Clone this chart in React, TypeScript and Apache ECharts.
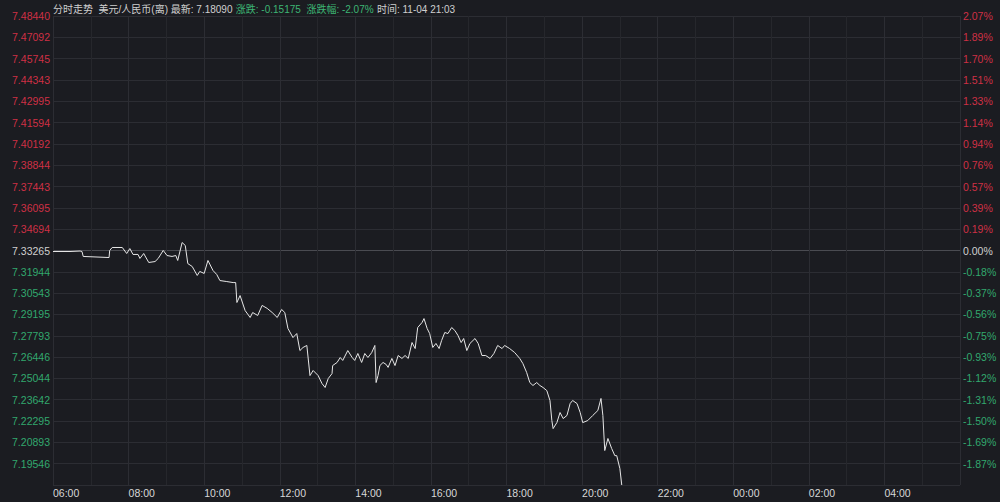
import React, { useEffect, useRef } from "react";
import * as echarts from "echarts";

// ---- data ----
const times = [
  "06:00","06:27","06:43","06:46","06:48","07:29","07:30","07:34","07:50","07:57",
  "08:02","08:07","08:15","08:18","08:24","08:32","08:42","08:47","08:55","09:01",
  "09:09","09:15","09:18","09:25","09:30","09:34","09:41","09:49","09:53","10:00",
  "10:06","10:14","10:20","10:25","10:35","10:46","10:50","10:52","10:57","11:05",
  "11:13","11:17","11:25","11:32","11:40","11:48","11:56","12:03","12:08","12:13",
  "12:21","12:27","12:32","12:37","12:43","12:48","12:53","13:01","13:07","13:12",
  "13:17","13:23","13:24","13:31","13:36","13:40","13:48","13:55","13:59","14:04",
  "14:10","14:15","14:20","14:26","14:31","14:33","14:36","14:39","14:44","14:49",
  "14:52","14:58","15:03","15:08","15:14","15:19","15:24","15:30","15:35","15:39",
  "15:46","15:49","15:54","15:58","16:03","16:08","16:13","16:17","16:22","16:27",
  "16:33","16:38","16:43","16:48","16:52","16:57","17:02","17:10","17:15","17:21",
  "17:27","17:34","17:40","17:46","17:53","17:57","18:05","18:13","18:21","18:26",
  "18:32","18:37","18:42","18:48","18:53","18:58","19:04","19:09","19:12","19:14",
  "19:20","19:25","19:30","19:36","19:41","19:45","19:52","19:57","20:01","20:09",
  "20:17","20:25","20:30","20:33","20:36","20:41","20:47","20:52","20:55","21:00",
  "21:03"
];
const prices = [
  7.3320,7.3320,7.3323,7.3320,7.3288,7.3281,7.3327,7.3346,7.3346,7.3307,
  7.3339,7.3301,7.3301,7.3275,7.3307,7.3249,7.3255,7.3275,7.3327,7.3294,
  7.3288,7.3294,7.3262,7.3378,7.3359,7.3242,7.3223,7.3165,7.3191,7.3178,
  7.3262,7.3197,7.3171,7.3132,7.3126,7.3119,7.3119,7.2990,7.3035,7.2938,
  7.2893,7.2925,7.2906,7.2971,7.2952,7.2925,7.2893,7.2945,7.2925,7.2822,
  7.2763,7.2789,7.2679,7.2699,7.2712,7.2517,7.2550,7.2517,7.2466,7.2440,
  7.2498,7.2530,7.2582,7.2602,7.2634,7.2615,7.2679,7.2634,7.2615,7.2660,
  7.2602,7.2660,7.2634,7.2666,7.2712,7.2472,7.2517,7.2582,7.2602,7.2589,
  7.2570,7.2628,7.2582,7.2647,7.2628,7.2647,7.2628,7.2731,7.2692,7.2828,
  7.2861,7.2886,7.2822,7.2789,7.2699,7.2725,7.2692,7.2744,7.2796,7.2789,
  7.2828,7.2809,7.2776,7.2731,7.2757,7.2679,7.2725,7.2757,7.2725,7.2647,
  7.2647,7.2628,7.2660,7.2712,7.2692,7.2712,7.2692,7.2666,7.2628,7.2595,
  7.2537,7.2472,7.2453,7.2472,7.2453,7.2440,7.2420,7.2356,7.2226,7.2174,
  7.2213,7.2278,7.2239,7.2259,7.2336,7.2356,7.2336,7.2278,7.2213,7.2226,
  7.2259,7.2291,7.2369,7.2259,7.2032,7.2110,7.2045,7.1999,7.1999,7.1915,
  7.1809
];

const priceLabels = [
  "7.48440","7.47092","7.45745","7.44343","7.42995","7.41594","7.40192","7.38844",
  "7.37443","7.36095","7.34694","7.33265","7.31944","7.30543","7.29195","7.27793",
  "7.26446","7.25044","7.23642","7.22295","7.20893","7.19546",""
];
const pctLabels = [
  "2.07%","1.89%","1.70%","1.51%","1.33%","1.14%","0.94%","0.76%","0.57%","0.39%",
  "0.19%","0.00%","-0.18%","-0.37%","-0.56%","-0.75%","-0.93%","-1.12%","-1.31%",
  "-1.50%","-1.69%","-1.87%",""
];
const timeLabels = ["06:00","08:00","10:00","12:00","14:00","16:00","18:00","20:00","22:00","00:00","02:00","04:00"];

const Y_MIN = 7.1809;
const Y_MAX = 7.4844;
const STEPS = 22;
const START_HOUR = 6;

const headerName = "分时走势  美元/人民币(离) 最新: 7.18090";
const headerChange = "涨跌: -0.15175  涨跌幅: -2.07%";
const headerTime = "时间: 11-04 21:03";

const RED = "#cf3045";
const GREEN = "#32a86e";
const NEUTRAL = "#d0d0d0";
const FONT = "'Liberation Sans', 'Noto Sans CJK SC', sans-serif";

function toMinutes(t: string) {
  const [h, m] = t.split(":").map(Number);
  let hh = h - START_HOUR;
  if (hh < 0) hh += 24;
  return hh * 60 + m;
}

export default function App() {
  const ref = useRef<HTMLDivElement>(null);
  useEffect(() => {
    if (!ref.current) return;
    const chart = echarts.init(ref.current, null, { renderer: "svg" });
    const step = (Y_MAX - Y_MIN) / STEPS;
    const tickVals: number[] = [];
    for (let i = 0; i <= STEPS; i++) {
      tickVals.push(i === 0 ? Y_MIN : i === STEPS ? Y_MAX : Y_MIN + i * step);
    }
    const idxOf = (v: number) => STEPS - Math.round((v - Y_MIN) / step);
    const colorOf = (v: number) => {
      const i = idxOf(v);
      if (i < 11) return RED;
      if (i === 11) return NEUTRAL;
      return GREEN;
    };
    const hLineColors = tickVals.map((_, i) => (i === 11 ? "#4a4b51" : "#2c2d33"));
    const data = times.map((t, i) => [toMinutes(t), prices[i]]);

    const yBase = {
      type: "value",
      min: Y_MIN,
      max: Y_MAX,
      axisLine: { show: false },
      axisTick: { show: false, customValues: tickVals },
    } as any;

    chart.setOption({
      animation: false,
      backgroundColor: "#1b1c21",
      textStyle: { fontFamily: FONT },
      grid: { left: 53, right: 40, top: 16, bottom: 17, containLabel: false },
      graphic: [
        {
          type: "text",
          left: 53,
          top: 3,
          style: {
            text: `{a|${headerName}} {g|${headerChange}} {a|${headerTime}}`,
            rich: {
              a: { fill: "#cfcfcf", fontSize: 10, fontFamily: FONT },
              g: { fill: "#3db574", fontSize: 10, fontFamily: FONT },
            },
          },
        },
      ],
      xAxis: {
        type: "value",
        min: 0,
        max: 1440,
        interval: 60,
        axisLine: { show: false },
        axisTick: { show: false },
        splitLine: { show: true, lineStyle: { color: ["#2c2d33", "#26272c"], width: 1 } },
        axisLabel: {
          color: "#d8d8d8",
          fontSize: 10.5,
          fontFamily: FONT,
          align: "left",
          margin: 3,
          showMaxLabel: false,
          formatter: (v: number) => (v % 120 === 0 && v < 1440 ? timeLabels[v / 120] : ""),
        },
      },
      yAxis: [
        {
          ...yBase,
          position: "left",
          splitLine: { show: true, lineStyle: { color: hLineColors, width: 1 } },
          axisLabel: {
            customValues: tickVals,
            fontSize: 10.5,
            fontFamily: FONT,
            margin: 3,
            color: (v: number) => colorOf(v),
            formatter: (v: number) => priceLabels[idxOf(v)] ?? "",
          },
        },
        {
          ...yBase,
          position: "right",
          splitLine: { show: false },
          axisLabel: {
            customValues: tickVals,
            fontSize: 10.5,
            fontFamily: FONT,
            margin: 3,
            color: (v: number) => colorOf(v),
            formatter: (v: number) => pctLabels[idxOf(v)] ?? "",
          },
        },
      ],
      series: [
        {
          type: "line",
          data,
          yAxisIndex: 0,
          showSymbol: false,
          symbol: "none",
          lineStyle: { color: "#e6e6e6", width: 1 },
        },
      ],
    } as any);
    return () => chart.dispose();
  }, []);
  return <div ref={ref} style={{ width: 1000, height: 502, position: "absolute", left: 0, top: 0 }} />;
}
